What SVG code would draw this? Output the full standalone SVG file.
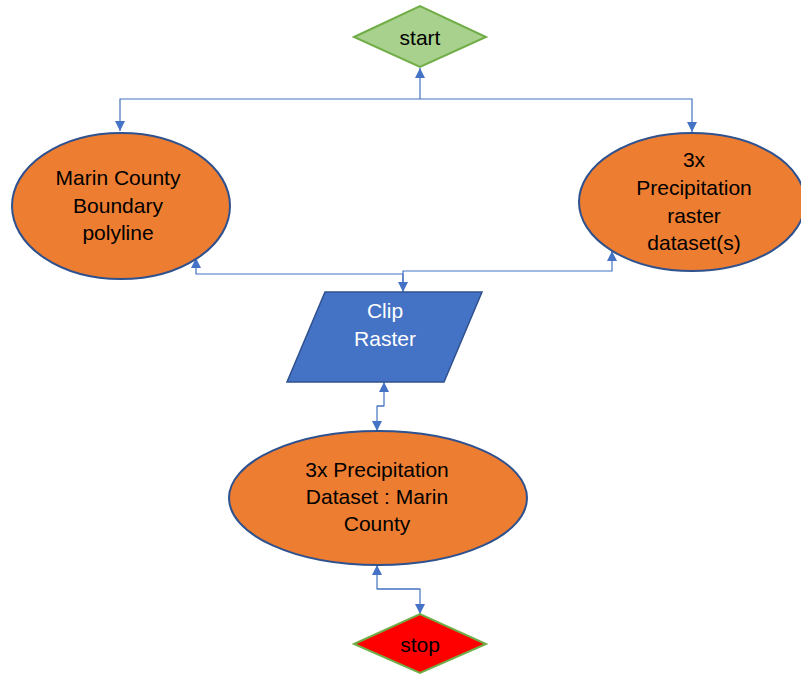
<svg xmlns="http://www.w3.org/2000/svg" width="801" height="675" viewBox="0 0 801 675">
  <defs>
    <style>
      .lbl { font-family: "Liberation Sans", Arial, sans-serif; font-size: 21px; text-anchor: middle; fill: #000; }
      .lbl-w { fill: #fff; }
      .oval { fill: #ED7D31; stroke: #2F528F; stroke-width: 2; }
      .conn { fill: none; stroke: #4472C4; stroke-width: 1.2; }
    </style>
    <marker id="arr" viewBox="0 0 10 10" refX="10" refY="5" markerWidth="10" markerHeight="10" markerUnits="userSpaceOnUse" orient="auto">
      <path d="M0,0 L10,5 L0,10 Z" fill="#4472C4"/>
    </marker>
  </defs>

  <rect width="801" height="675" fill="#fff"/>

  <!-- connectors -->
  <g id="connectors">
    <path class="conn" d="M420,99 V68" marker-end="url(#arr)"/>
    <path class="conn" d="M420,99 H120 V131" marker-end="url(#arr)"/>
    <path class="conn" d="M420,99 H692 V132" marker-end="url(#arr)"/>
    <path class="conn" d="M403,274 H196 V258" marker-end="url(#arr)"/>
    <path class="conn" d="M403,291 V271 H612 V251" marker-end="url(#arr)"/>
    <path class="conn" d="M403,274 V292" marker-end="url(#arr)"/>
    <path class="conn" d="M377,406 H384 V382" marker-end="url(#arr)"/>
    <path class="conn" d="M384,406 H377 V431" marker-end="url(#arr)"/>
    <path class="conn" d="M420,589 H377 V565" marker-end="url(#arr)"/>
    <path class="conn" d="M377,589 H420 V614" marker-end="url(#arr)"/>
  </g>

  <g id="start">
    <polygon points="354,37 420,6 486,37 420,67" fill="#A9D18E" stroke="#70AD47" stroke-width="2"/>
    <text class="lbl" x="420" y="45">start</text>
  </g>

  <g id="marin-boundary">
    <ellipse class="oval" cx="121" cy="206" rx="109" ry="73"/>
    <text class="lbl" x="118" y="185">Marin County</text>
    <text class="lbl" x="118" y="213">Boundary</text>
    <text class="lbl" x="118" y="240">polyline</text>
  </g>

  <g id="precip-rasters">
    <ellipse class="oval" cx="692" cy="202" rx="113" ry="69"/>
    <text class="lbl" x="694" y="167">3x</text>
    <text class="lbl" x="694" y="195">Precipitation</text>
    <text class="lbl" x="694" y="223">raster</text>
    <text class="lbl" x="694" y="250">dataset(s)</text>
  </g>

  <g id="clip-raster">
    <polygon points="325,292 482,292 444,382 287,382" fill="#4472C4" stroke="#2F528F" stroke-width="1.5"/>
    <text class="lbl lbl-w" x="385" y="318">Clip</text>
    <text class="lbl lbl-w" x="385" y="346">Raster</text>
  </g>

  <g id="precip-marin">
    <ellipse class="oval" cx="378" cy="498" rx="149" ry="67"/>
    <text class="lbl" x="377" y="477">3x Precipitation</text>
    <text class="lbl" x="377" y="504">Dataset : Marin</text>
    <text class="lbl" x="377" y="531">County</text>
  </g>

  <g id="stop">
    <polygon points="354,644 420,614 486,644 420,673" fill="#FF0000" stroke="#70AD47" stroke-width="2"/>
    <text class="lbl" x="420" y="652">stop</text>
  </g>
</svg>
